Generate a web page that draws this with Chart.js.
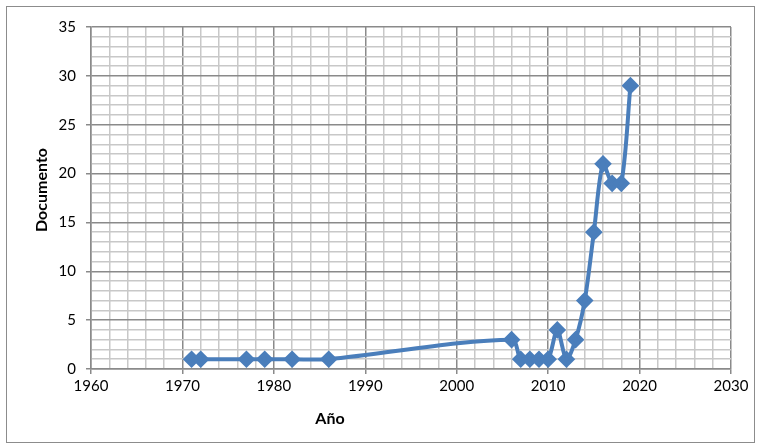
<!DOCTYPE html>
<html>
<head>
<meta charset="utf-8">
<script src="https://cdn.jsdelivr.net/npm/chart.js@4/dist/chart.umd.min.js"></script>
<style>
html,body{margin:0;padding:0;background:#fff;}
#wrap{position:relative;width:760px;height:448px;}
</style>
</head>
<body>
<div id="wrap"><canvas id="c" width="760" height="448"></canvas></div>
<script>
const years = [1971,1972,1977,1979,1982,1986,2006,2007,2008,2009,2010,2011,2012,2013,2014,2015,2016,2017,2018,2019];
const documentos = [1,1,1,1,1,1,3,1,1,1,1,4,1,3,7,14,21,19,19,29];
const xTitle = 'Año';
const yTitle = 'Documento';

const FONT = 'Lato, "Open Sans", sans-serif';
const MAJOR = '#8A8A8A', MINOR = '#C8C8C8';

const decor = {
  id: 'decor',
  beforeDraw(chart) {
    const c = chart.ctx;
    c.save();
    c.fillStyle = '#fff';
    c.fillRect(0, 0, chart.width, chart.height);
    c.strokeStyle = '#8c8c8c';
    c.lineWidth = 1;
    c.strokeRect(6.5, 6.5, 748, 436);
    c.restore();
  },
  afterDraw(chart) {
    const c = chart.ctx;
    c.save();
    c.fillStyle = '#000';
    c.font = 'bold 16px ' + FONT;
    c.textAlign = 'center';
    c.textBaseline = 'middle';
    c.fillText(xTitle, 330, 419);
    c.translate(42, 190);
    c.rotate(-Math.PI / 2);
    c.fillText(yTitle, 0, 0);
    c.restore();
  }
};

new Chart(document.getElementById('c'), {
  type: 'line',
  data: {
    datasets: [{
      data: years.map((y, i) => ({x: y, y: documentos[i]})),
      borderColor: '#4A7EBB',
      backgroundColor: '#4A7EBB',
      borderWidth: 4,
      tension: 0.3,
      pointStyle: 'rectRot',
      pointRadius: 6,
      pointHoverRadius: 6,
      pointBackgroundColor: '#4A7EBB',
      pointBorderColor: '#4A7EBB',
      fill: false
    }]
  },
  options: {
    responsive: false,
    animation: false,
    events: [],
    layout: {padding: {left: 0, right: 29, top: 27, bottom: 0}},
    plugins: {legend: {display: false}, tooltip: {enabled: false}, title: {display: false}},
    scales: {
      x: {
        type: 'linear', min: 1960, max: 2030,
        afterFit(s) { s.height = 79; },
        ticks: {
          stepSize: 2, autoSkip: false, maxRotation: 0, padding: 3,
          color: '#000', font: {family: FONT, size: 15},
          callback: v => (v % 10 === 0 ? String(v) : '')
        },
        grid: {
          color: ctx => (ctx.tick && ctx.tick.value % 10 === 0 ? MAJOR : MINOR),
          tickColor: ctx => (ctx.tick && ctx.tick.value % 10 === 0 ? MAJOR : 'rgba(0,0,0,0)'),
          tickLength: 5, lineWidth: 1.5
        },
        border: {color: MAJOR, width: 1.5}
      },
      y: {
        type: 'linear', min: 0, max: 35,
        afterFit(s) { s.width = 91; },
        ticks: {
          stepSize: 1, autoSkip: false, padding: 10,
          color: '#000', font: {family: FONT, size: 15},
          callback: v => (v % 5 === 0 ? String(v) : '')
        },
        grid: {
          color: ctx => (ctx.tick && ctx.tick.value % 5 === 0 ? MAJOR : MINOR),
          tickColor: ctx => (ctx.tick && ctx.tick.value % 5 === 0 ? MAJOR : 'rgba(0,0,0,0)'),
          tickLength: 5, lineWidth: 1.5
        },
        border: {color: MAJOR, width: 1.5}
      }
    }
  },
  plugins: [decor]
});
</script>
</body>
</html>
